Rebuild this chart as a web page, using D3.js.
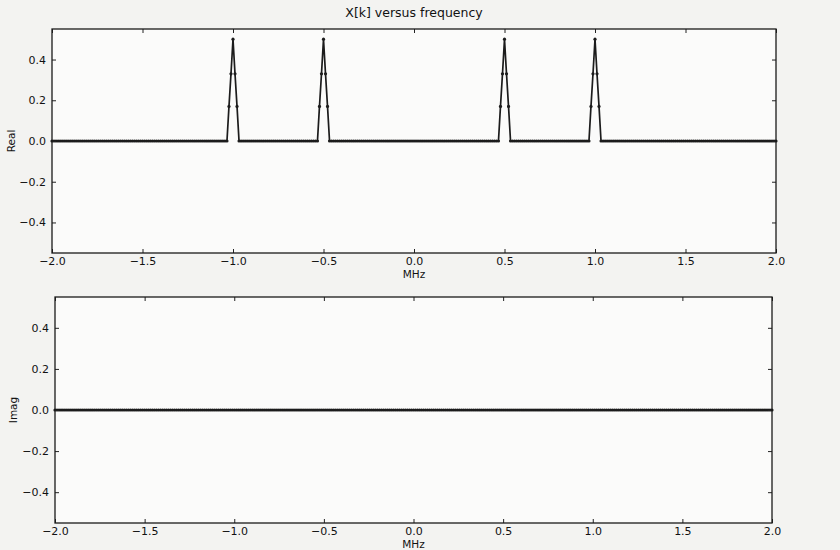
<!DOCTYPE html>
<html>
<head>
<meta charset="utf-8">
<script src="https://cdn.jsdelivr.net/npm/d3@7"></script>
<style>
  html, body { margin: 0; padding: 0; background: #f3f3f1; }
  svg { display: block; }
  text { font-family: "DejaVu Sans", sans-serif; fill: #111; }
</style>
</head>
<body>
<svg id="chart" width="840" height="550"></svg>
<script>
// Spectrum X[k]: real and imaginary parts over frequency (MHz)
const title = "X[k] versus frequency";
const xLabel = "MHz";
const panelLabels = ["Real", "Imag"];
const xTicks = [-2.0, -1.5, -1.0, -0.5, 0.0, 0.5, 1.0, 1.5, 2.0];
const yTicks = [-0.4, -0.2, 0.0, 0.2, 0.4];
const xDomain = [-2.0, 2.0];
const yDomain = [-0.55, 0.55];

// DFT bin grid: 360 bins spanning -2 .. 2 MHz
const nBins = 360;
const binStep = 4 / nBins;

// tone frequencies and the real-part values around each tone (bins -3 .. +3)
const toneFreqs = [-1.0, -0.5, 0.5, 1.0];
const toneShape = [0.0, 0.17, 0.33, 0.5, 0.33, 0.17, 0.0];
// imaginary part is zero across the whole band
const imagLevel = 0.0;

const freqs = d3.range(nBins + 1).map(k => -2 + k * binStep);
const realVals = freqs.map(() => 0);
toneFreqs.forEach(f0 => {
  const c = Math.round((f0 + 2) / binStep);
  toneShape.forEach((v, j) => { realVals[c + j - 3] = v; });
});
const imagVals = freqs.map(() => imagLevel);

const realSeries = freqs.map((f, i) => ({ f, v: realVals[i] }));
const imagSeries = freqs.map((f, i) => ({ f, v: imagVals[i] }));

const svg = d3.select("#chart");
const minus = s => s.replace("-", "\u2212");
const fmt = d => minus(d3.format(".1f")(d));

svg.append("text")
  .attr("x", 414).attr("y", 17)
  .attr("text-anchor", "middle")
  .attr("font-size", 12.5)
  .text(title);

const panels = [
  { series: realSeries, label: panelLabels[0], left: 52, right: 776, top: 29, bottom: 253, labelX: 11 },
  { series: imagSeries, label: panelLabels[1], left: 55, right: 772, top: 297, bottom: 523, labelX: 13 }
];

panels.forEach(p => {
  const x = d3.scaleLinear().domain(xDomain).range([p.left, p.right]);
  const y = d3.scaleLinear().domain(yDomain).range([p.bottom, p.top]);
  const g = svg.append("g");

  g.append("rect")
    .attr("x", p.left).attr("y", p.top)
    .attr("width", p.right - p.left).attr("height", p.bottom - p.top)
    .attr("fill", "#fbfbfa");

  // data line and markers
  const line = d3.line().x(d => x(d.f)).y(d => y(d.v));
  g.append("path")
    .datum(p.series)
    .attr("d", line)
    .attr("fill", "none")
    .attr("stroke", "#1c1c1c")
    .attr("stroke-width", 1.7)
    .attr("stroke-linejoin", "round");
  g.selectAll("circle.pt")
    .data(p.series)
    .join("circle")
    .attr("class", "pt")
    .attr("cx", d => x(d.f))
    .attr("cy", d => y(d.v))
    .attr("r", 1.6)
    .attr("fill", "#1c1c1c");

  // axes with inward ticks on all four sides
  const bottomAxis = d3.axisBottom(x).tickValues(xTicks).tickSizeInner(-4).tickSizeOuter(0)
    .tickPadding(4).tickFormat(fmt);
  const topAxis = d3.axisTop(x).tickValues(xTicks).tickSizeInner(-4).tickSizeOuter(0).tickFormat("");
  const leftAxis = d3.axisLeft(y).tickValues(yTicks).tickSizeInner(-4).tickSizeOuter(0)
    .tickPadding(6).tickFormat(fmt);
  const rightAxis = d3.axisRight(y).tickValues(yTicks).tickSizeInner(-4).tickSizeOuter(0).tickFormat("");

  const styleAxis = sel => {
    sel.select(".domain").remove();
    sel.selectAll("line").attr("stroke", "#222").attr("stroke-width", 1);
    sel.selectAll("text").attr("font-size", 11).attr("fill", "#111")
      .attr("font-family", "DejaVu Sans, sans-serif");
  };

  g.append("g").attr("transform", `translate(0,${p.bottom})`).call(bottomAxis).call(styleAxis);
  g.append("g").attr("transform", `translate(0,${p.top})`).call(topAxis).call(styleAxis);
  g.append("g").attr("transform", `translate(${p.left},0)`).call(leftAxis).call(styleAxis);
  g.append("g").attr("transform", `translate(${p.right},0)`).call(rightAxis).call(styleAxis);

  g.append("rect")
    .attr("x", p.left).attr("y", p.top)
    .attr("width", p.right - p.left).attr("height", p.bottom - p.top)
    .attr("fill", "none").attr("stroke", "#1a1a1a").attr("stroke-width", 1.3);

  g.append("text")
    .attr("x", (p.left + p.right) / 2).attr("y", p.bottom + 25)
    .attr("text-anchor", "middle").attr("font-size", 10.5)
    .text(xLabel);

  g.append("text")
    .attr("transform", `translate(${p.labelX},${y(0)}) rotate(-90)`)
    .attr("text-anchor", "middle").attr("dy", "0.35em")
    .attr("font-size", 10.5)
    .text(p.label);
});
</script>
</body>
</html>
